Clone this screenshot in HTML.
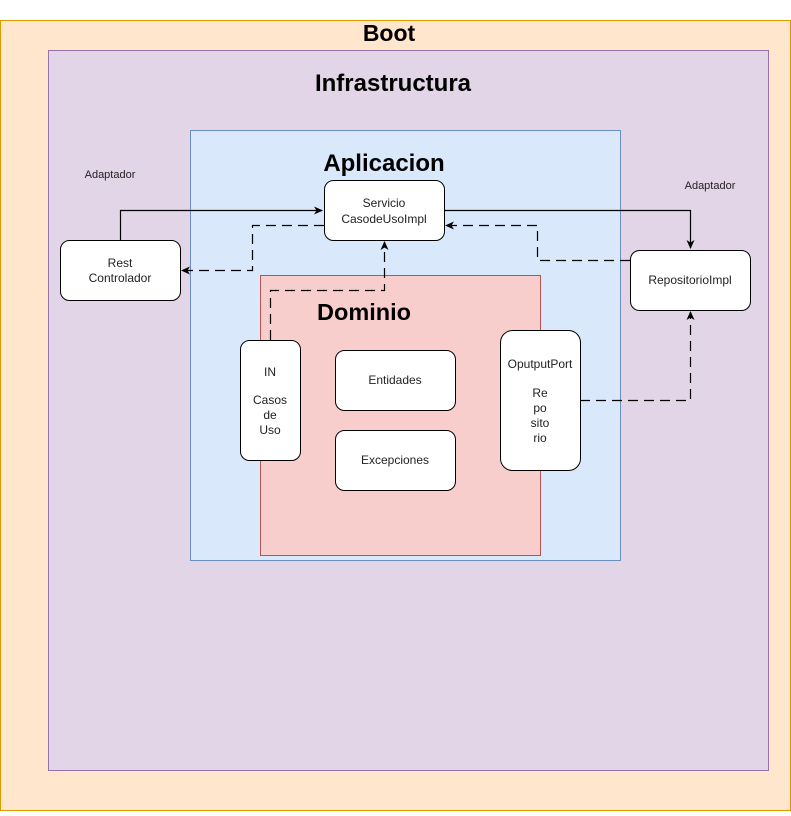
<!DOCTYPE html>
<html><head><meta charset="utf-8"><style>body{margin:0;background:#fff}text{font-family:"Liberation Sans",Arial,sans-serif}</style></head><body>
<svg width="791" height="811" viewBox="0 0 791 811" xmlns="http://www.w3.org/2000/svg">
<defs><marker id="a" markerWidth="10" markerHeight="10" refX="8" refY="5" orient="auto" markerUnits="userSpaceOnUse"><path d="M0,1 L9,5 L0,9 L2.5,5 Z" fill="#000"/></marker></defs>
<rect x="0.5" y="20.5" width="790" height="790" fill="#ffe6cc" stroke="#d79b00"/>
<text x="389" y="41" font-size="23" font-weight="bold" text-anchor="middle">Boot</text>
<rect x="48.5" y="50.5" width="720" height="720" fill="#e1d5e7" stroke="#9673a6"/>
<text x="393" y="91" font-size="24" font-weight="bold" text-anchor="middle">Infrastructura</text>
<rect x="190.5" y="130.5" width="430" height="430" fill="#dae8fc" stroke="#6c8ebf"/>
<text x="384" y="171" font-size="24" font-weight="bold" text-anchor="middle">Aplicacion</text>
<rect x="260.5" y="275.5" width="280" height="280" fill="#f8cecc" stroke="#b85450"/>
<text x="364" y="320" font-size="23.5" font-weight="bold" text-anchor="middle">Dominio</text>
<text x="110" y="178" font-size="11" text-anchor="middle" fill="#222">Adaptador</text>
<text x="710" y="189" font-size="11" text-anchor="middle" fill="#222">Adaptador</text>
<g fill="#fff" stroke="#000">
<rect x="324.5" y="180.5" width="120" height="60" rx="9"/>
<rect x="60.5" y="240.5" width="120" height="60" rx="9"/>
<rect x="630.5" y="250.5" width="120" height="60" rx="9"/>
<rect x="240.5" y="340.5" width="60" height="120" rx="9"/>
<rect x="335.5" y="350.5" width="120" height="60" rx="9"/>
<rect x="335.5" y="430.5" width="120" height="60" rx="9"/>
<rect x="500.5" y="330.5" width="80" height="140" rx="12"/>
</g>
<g font-size="12" text-anchor="middle" fill="#222">
<text x="384" y="207">Servicio</text><text x="384" y="223">CasodeUsoImpl</text>
<text x="120" y="267">Rest</text><text x="120" y="282">Controlador</text>
<text x="690" y="284">RepositorioImpl</text>
<text x="270" y="376">IN</text><text x="270" y="404">Casos</text><text x="270" y="419">de</text><text x="270" y="434">Uso</text>
<text x="395" y="384">Entidades</text>
<text x="395" y="464">Excepciones</text>
<text x="540" y="368">OputputPort</text><text x="540" y="397">Re</text><text x="540" y="412">po</text><text x="540" y="427">sito</text><text x="540" y="442">rio</text>
</g>
<g fill="none" stroke="#000" stroke-width="1.2">
<path d="M120.5,240 V210.5 H322" marker-end="url(#a)"/>
<path d="M444,210.5 H690.5 V248" marker-end="url(#a)"/>
<g stroke-dasharray="10,6">
<path d="M324,225.5 H252.5 V270.5 H182" marker-end="url(#a)"/>
<path d="M630,260.5 H537.5 V225.5 H446" marker-end="url(#a)"/>
<path d="M270.5,340 V290.5 H384.5 V242" marker-end="url(#a)"/>
<path d="M580,400.5 H690.5 V312" marker-end="url(#a)"/>
</g></g>
</svg>
</body></html>
